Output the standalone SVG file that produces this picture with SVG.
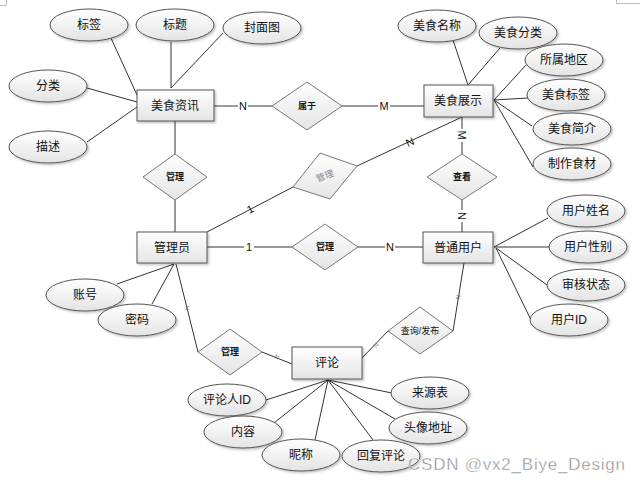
<svg xmlns="http://www.w3.org/2000/svg" width="640" height="483" viewBox="0 0 640 483">
<style>
.e{fill:url(#g);stroke:#555;stroke-width:1;filter:url(#sh)}
.r{fill:url(#g);stroke:#555;stroke-width:1;filter:url(#sh)}
.d{fill:url(#g);stroke:#777;stroke-width:1}
.t{font-family:"Liberation Sans","Noto Sans CJK SC",sans-serif;font-size:12px;fill:#111;text-anchor:middle;dominant-baseline:central}
.dt{font-family:"Liberation Sans","Noto Sans CJK SC",sans-serif;font-size:9px;font-weight:bold;fill:#111;text-anchor:middle;dominant-baseline:central}
.l{stroke:#333;stroke-width:1;fill:none}
.lg{stroke:#7a7a7a;stroke-width:1.6;fill:none}
.lb{font-family:"Liberation Sans",sans-serif;font-size:11px;fill:#111;text-anchor:middle;dominant-baseline:central}
.ls{font-family:"Liberation Sans",sans-serif;font-size:6px;fill:#777;text-anchor:middle;dominant-baseline:central}
.bg{fill:#fff}
</style>
<defs>
<linearGradient id="g" x1="0" y1="0" x2="0" y2="1">
<stop offset="0" stop-color="#ffffff"/>
<stop offset="1" stop-color="#e4e4e4"/>
</linearGradient>
<filter id="sh" x="-10%" y="-10%" width="130%" height="140%">
<feDropShadow dx="1.5" dy="1.5" stdDeviation="0.8" flood-color="#000" flood-opacity="0.25"/>
</filter>
</defs>
<rect width="640" height="483" fill="#fff"/>
<path d="M0 5.5H6.5V0M616.5 0V3.5H640" stroke="#bbb" fill="none"/>

<g id="connectors">
<line class="l" x1="111" y1="38" x2="137" y2="95"/>
<line class="l" x1="171" y1="42" x2="171" y2="88"/>
<line class="l" x1="223" y1="33" x2="171" y2="88"/>
<line class="l" x1="87" y1="88" x2="137" y2="102"/>
<line class="l" x1="87" y1="142" x2="137" y2="107"/>
<line class="lg" x1="214" y1="106" x2="272" y2="106"/>
<line class="lg" x1="342" y1="106" x2="424" y2="106"/>
<line class="l" x1="175" y1="121" x2="175" y2="154"/>
<line class="l" x1="175" y1="200" x2="175" y2="232"/>
<line class="l" x1="453" y1="40" x2="468" y2="85"/>
<line class="l" x1="500" y1="48" x2="468" y2="85"/>
<line class="l" x1="526" y1="65" x2="494" y2="100"/>
<line class="l" x1="528" y1="98" x2="494" y2="100"/>
<line class="l" x1="532" y1="126" x2="494" y2="100"/>
<line class="l" x1="533" y1="167" x2="494" y2="100"/>
<line class="l" x1="462" y1="117" x2="357" y2="166"/>
<line class="l" x1="207" y1="232" x2="293" y2="187"/>
<line class="l" x1="462" y1="117" x2="462" y2="154"/>
<line class="l" x1="462" y1="200" x2="462" y2="232"/>
<line class="l" x1="207" y1="247" x2="292" y2="247"/>
<line class="l" x1="358" y1="247" x2="423" y2="247"/>
<line class="l" x1="117" y1="284" x2="174" y2="264"/>
<line class="l" x1="152" y1="304" x2="174" y2="264"/>
<line class="l" x1="176" y1="264" x2="198" y2="352"/>
<line class="l" x1="262" y1="352" x2="292" y2="364"/>
<line class="l" x1="494" y1="247" x2="548" y2="218"/>
<line class="l" x1="494" y1="247" x2="549" y2="247"/>
<line class="l" x1="496" y1="248" x2="547" y2="285"/>
<line class="l" x1="496" y1="248" x2="531" y2="320"/>
<line class="l" x1="464" y1="263" x2="453" y2="331"/>
<line class="l" x1="388" y1="331" x2="362" y2="358"/>
<line class="l" x1="266" y1="400" x2="328" y2="380"/>
<line class="l" x1="274" y1="423" x2="328" y2="380"/>
<line class="l" x1="315" y1="440" x2="328" y2="380"/>
<line class="l" x1="392" y1="393" x2="328" y2="380"/>
<line class="l" x1="395" y1="419" x2="328" y2="380"/>
<line class="l" x1="373" y1="440" x2="328" y2="380"/>

<rect class="bg" x="238" y="99" width="10" height="14"/>
<text class="lb" x="243" y="106">N</text>
<rect class="bg" x="378" y="99" width="12" height="14"/>
<text class="lb" x="384" y="106">M</text>
<text class="lb" x="410" y="142" transform="rotate(-25 410 142)">N</text>
<text class="lb" x="250" y="209" transform="rotate(-28 250 209)">1</text>
<rect class="bg" x="456" y="129" width="12" height="13"/>
<text class="lb" x="462" y="135" transform="rotate(90 462 135)">M</text>
<rect class="bg" x="456" y="210" width="12" height="12"/>
<text class="lb" x="462" y="216" transform="rotate(90 462 216)">N</text>
<rect class="bg" x="244" y="240" width="10" height="14"/>
<text class="lb" x="249" y="247">1</text>
<rect class="bg" x="385" y="240" width="10" height="14"/>
<text class="lb" x="390" y="247">N</text>
<text class="ls" x="187" y="308" transform="rotate(76 187 308)">N</text>
<text class="ls" x="277" y="357" transform="rotate(22 277 357)">N</text>
<text class="ls" x="376" y="345" transform="rotate(-46 376 345)">N</text>
<text class="ls" x="458" y="297" transform="rotate(-81 458 297)">N</text>
</g>

<g id="meishi-zixun"><rect class="r" x="137" y="90" width="77" height="31"/><text class="t" x="175" y="106">美食资讯</text></g>
<g id="biaoqian"><ellipse class="e" cx="89" cy="25" rx="39" ry="16"/><text class="t" x="89" y="25">标签</text></g>
<g id="biaoti"><ellipse class="e" cx="175" cy="25" rx="39" ry="16"/><text class="t" x="175" y="25">标题</text></g>
<g id="fengmiantu"><ellipse class="e" cx="262" cy="28" rx="39" ry="16"/><text class="t" x="262" y="28">封面图</text></g>
<g id="fenlei"><ellipse class="e" cx="48" cy="86" rx="39" ry="16"/><text class="t" x="48" y="86">分类</text></g>
<g id="miaoshu"><ellipse class="e" cx="48" cy="147" rx="39" ry="16"/><text class="t" x="48" y="147">描述</text></g>

<g id="shuyu"><polygon class="d" points="272,106 307,82 342,106 307,130"/><text class="dt" x="307" y="106">属于</text></g>
<g id="guanli-1"><polygon class="d" points="143,177 175,154 207,177 175,200"/><text class="dt" x="175" y="177">管理</text></g>
<g id="guanli-2"><polygon class="d" points="293,187 320,153 357,166 330,199"/><text class="dt" x="325" y="176" fill="#888" style="fill:#888;font-weight:normal" transform="rotate(-20 325 176)">管理</text></g>
<g id="chakan"><polygon class="d" points="427,177 462,154 497,177 462,200"/><text class="dt" x="462" y="177">查看</text></g>
<g id="guanli-3"><polygon class="d" points="292,247 325,224 358,247 325,270"/><text class="dt" x="325" y="247">管理</text></g>
<g id="guanli-4"><polygon class="d" points="198,352 230,329 262,352 230,375"/><text class="dt" x="230" y="352">管理</text></g>
<g id="chaxun-fabu"><polygon class="d" points="388,331 420,307 453,331 420,354"/><text class="dt" x="420" y="331" style="font-weight:normal">查询/发布</text></g>

<g id="meishi-zhanshi"><rect class="r" x="424" y="85" width="69" height="32"/><text class="t" x="458" y="101">美食展示</text></g>
<g id="meishi-mingcheng"><ellipse class="e" cx="437" cy="26" rx="39" ry="16"/><text class="t" x="437" y="26">美食名称</text></g>
<g id="meishi-fenlei"><ellipse class="e" cx="518" cy="33" rx="39" ry="16"/><text class="t" x="518" y="33">美食分类</text></g>
<g id="suoshu-diqu"><ellipse class="e" cx="564" cy="60" rx="39" ry="16"/><text class="t" x="564" y="60">所属地区</text></g>
<g id="meishi-biaoqian"><ellipse class="e" cx="566" cy="95" rx="39" ry="16"/><text class="t" x="566" y="95">美食标签</text></g>
<g id="meishi-jianjie"><ellipse class="e" cx="572" cy="129" rx="39" ry="16"/><text class="t" x="572" y="129">美食简介</text></g>
<g id="zhizuo-shicai"><ellipse class="e" cx="572" cy="164" rx="39" ry="16"/><text class="t" x="572" y="164">制作食材</text></g>

<g id="guanliyuan"><rect class="r" x="137" y="232" width="70" height="31"/><text class="t" x="172" y="248">管理员</text></g>
<g id="zhanghao"><ellipse class="e" cx="85" cy="295" rx="39" ry="16"/><text class="t" x="85" y="295">账号</text></g>
<g id="mima"><ellipse class="e" cx="137" cy="320" rx="39" ry="16"/><text class="t" x="137" y="320">密码</text></g>

<g id="putong-yonghu"><rect class="r" x="423" y="232" width="70" height="31"/><text class="t" x="458" y="248">普通用户</text></g>
<g id="yonghu-xingming"><ellipse class="e" cx="586" cy="211" rx="39" ry="16"/><text class="t" x="586" y="211">用户姓名</text></g>
<g id="yonghu-xingbie"><ellipse class="e" cx="588" cy="247" rx="39" ry="16"/><text class="t" x="588" y="247">用户性别</text></g>
<g id="shenhe-zhuangtai"><ellipse class="e" cx="586" cy="285" rx="39" ry="16"/><text class="t" x="586" y="285">审核状态</text></g>
<g id="yonghu-id"><ellipse class="e" cx="569" cy="320" rx="39" ry="16"/><text class="t" x="569" y="320">用户ID</text></g>

<g id="pinglun"><rect class="r" x="292" y="347" width="70" height="32"/><text class="t" x="327" y="363">评论</text></g>
<g id="pinglunren-id"><ellipse class="e" cx="227" cy="400" rx="39" ry="16"/><text class="t" x="227" y="400">评论人ID</text></g>
<g id="neirong"><ellipse class="e" cx="243" cy="432" rx="39" ry="16"/><text class="t" x="243" y="432">内容</text></g>
<g id="nicheng"><ellipse class="e" cx="301" cy="455" rx="39" ry="16"/><text class="t" x="301" y="455">昵称</text></g>
<g id="laiyuanbiao"><ellipse class="e" cx="430" cy="393" rx="39" ry="16"/><text class="t" x="430" y="393">来源表</text></g>
<g id="touxiang-dizhi"><ellipse class="e" cx="428" cy="428" rx="39" ry="16"/><text class="t" x="428" y="428">头像地址</text></g>
<g id="huifu-pinglun"><ellipse class="e" cx="381" cy="456" rx="39" ry="16"/><text class="t" x="381" y="456">回复评论</text></g>

<text x="408" y="470" textLength="217" style="font-family:'Liberation Sans',sans-serif;font-size:17px;fill:#8a8a8a;stroke:#fff;stroke-width:0.4">CSDN @vx2_Biye_Design</text>
</svg>
